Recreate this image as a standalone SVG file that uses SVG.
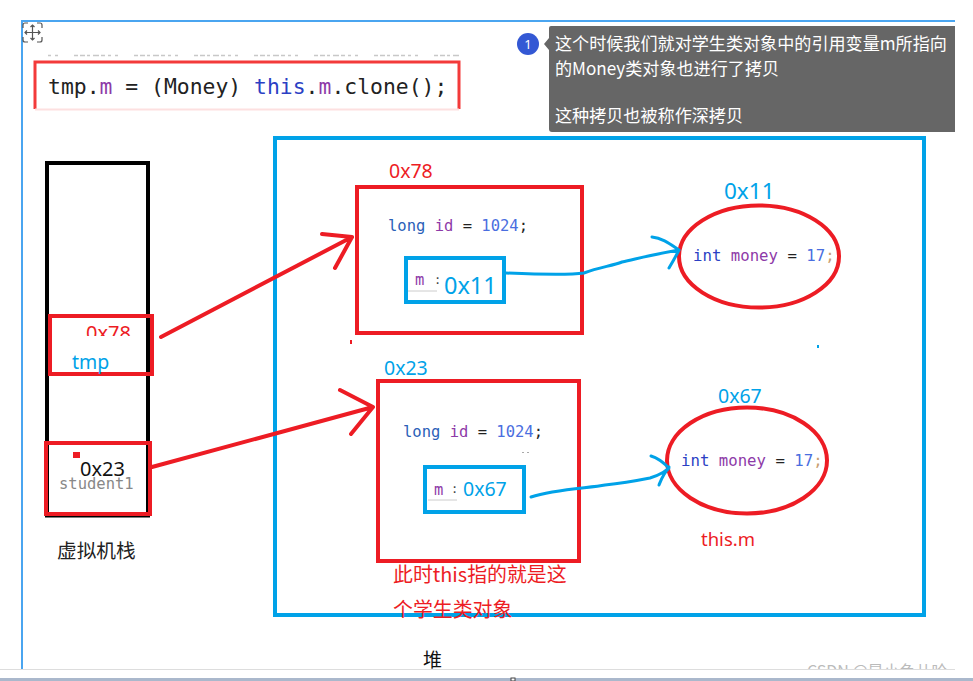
<svg xmlns="http://www.w3.org/2000/svg" width="973" height="681" viewBox="0 0 973 681">
<defs><style>
.mono{font-family:"DejaVu Sans Mono","Liberation Mono",monospace}
.sans{font-family:"Noto Sans","Noto Sans CJK SC","Liberation Sans",sans-serif}
.cjk{font-family:"Noto Sans CJK SC","Noto Sans",sans-serif}
.red{fill:none;stroke:#ed1c24}
.blue{fill:none;stroke:#00a2e8}
.kw{fill:#2b3fc4}.pu{fill:#8e3aa8}.nm{fill:#4a6ee0}.dk{fill:#222}
</style>
<clipPath id="wm"><rect x="800" y="660" width="160" height="9"/></clipPath>
<clipPath id="c78"><rect x="60" y="316" width="80" height="20"/></clipPath>
</defs>
<rect width="973" height="681" fill="#fff"/>
<g id="frame">
<path d="M22 670V21H955" fill="none" stroke="#4aa5f0" stroke-width="2"/>
<rect x="0" y="669" width="955" height="1" fill="#ddd"/>
<rect x="0" y="678" width="973" height="3" fill="#aab8cc"/>
<rect x="511" y="678" width="4" height="3" fill="#fff" stroke="#444" stroke-width="1"/>
<text x="807" y="677" class="cjk" font-size="16" fill="#bbb" clip-path="url(#wm)">CSDN @是小鱼儿哈</text>
<g fill="none" stroke="#555" stroke-width="1.200"><path d="M23 28V25Q23 23 25 23H28M37 23H40Q42 23 42 25V28M42 37V40Q42 42 40 42H37M28 42H25Q23 42 23 40V37"/><path d="M32.500 25V40M25 32.500H40M30.500 27L32.500 25L34.500 27M30.500 38L32.500 40L34.500 38M27 30.500L25 32.500L27 34.500M38 30.500L40 32.500L38 34.500"/></g>
<path d="M48 55.500H459" stroke="#c8c8c8" stroke-width="1.500" stroke-dasharray="3 4 3 16 4 2 5 2 3 3 6 2 4 3" fill="none"/>
</g>
<g id="code-box">
<path d="M35 109V62H459V109" fill="none" stroke="#f33a3a" stroke-width="3"/>
<path d="M35 109.500H459" fill="none" stroke="#fde0e0" stroke-width="2"/>
<text x="48" y="94" class="mono" font-size="21.400"><tspan class="dk">tmp.</tspan><tspan class="pu">m</tspan><tspan class="dk"> = (Money) </tspan><tspan class="kw">this</tspan><tspan class="dk">.</tspan><tspan class="pu">m</tspan><tspan class="dk">.clone();</tspan></text>
</g>
<g id="comment">
<circle cx="528" cy="44" r="11" fill="#3358d4"/>
<text x="528" y="49" text-anchor="middle" class="sans" font-size="13" fill="#fff">1</text>
<path d="M551 26H955V132H552Q549 132 549 129V50L544 44L549 38V28Q549 26 551 26Z" fill="#666"/>
<g class="cjk" font-size="17.100" fill="#fff"><text x="555" y="50">这个时候我们就对学生类对象中的引用变量m所指向</text><text x="555" y="75">的Money类对象也进行了拷贝</text><text x="555" y="122">这种拷贝也被称作深拷贝</text></g>
</g>
<g id="heap">
<rect x="275" y="138" width="649" height="477" class="blue" stroke-width="4"/>
<text x="423" y="667" class="cjk" font-size="19" fill="#111">堆</text>
</g>
<g id="stack">
<rect x="47" y="163" width="101" height="352" fill="none" stroke="#000" stroke-width="4"/>
<path d="M45 516H150" stroke="#000" stroke-width="3" fill="none"/>
<text x="57" y="558" class="cjk" font-size="19.700" fill="#222">虚拟机栈</text>
</g>
<g id="stack-tmp">
<text x="86" y="340" class="sans" font-size="20" fill="#ed1c24" clip-path="url(#c78)">0x78</text>
<rect x="50" y="316" width="102" height="58" fill="none" stroke="#ed1c24" stroke-width="4"/>
<text x="72" y="369" class="sans" font-size="19.500" fill="#00a2e8">tmp</text>
</g>
<g id="stack-student1">
<rect x="46" y="443" width="104" height="71" class="red" stroke-width="4"/>
<rect x="73" y="452" width="7" height="6" fill="#ed1c24"/>
<text x="80" y="476" class="sans" font-size="20" fill="#111">0x23</text>
<text x="59" y="489" class="mono" font-size="15.500" fill="#888">student1</text>
</g>
<g id="obj-78">
<text x="389" y="178" class="sans" font-size="19.500" fill="#ed1c24">0x78</text>
<rect x="357" y="187" width="225" height="146" class="red" stroke-width="4"/>
<text x="388" y="231" class="mono" font-size="15.500"><tspan fill="#2b5fb8">long</tspan><tspan fill="#8e3aa8"> id</tspan><tspan class="dk"> = </tspan><tspan class="nm">1024</tspan><tspan class="dk">;</tspan></text>
<rect x="406" y="258" width="98" height="44" class="blue" stroke-width="4"/>
<text x="415" y="285" class="mono" font-size="15.500" fill="#8e3aa8">m</text>
<text x="434" y="284" class="mono" font-size="12" fill="#444">:</text>
<path d="M408 291H437" stroke="#ccc" fill="none"/>
<text x="444" y="294" class="sans" font-size="23.500" fill="#00a2e8">0x11</text>
</g>
<g id="money-11">
<text x="724" y="199" class="sans" font-size="22.500" fill="#00a2e8">0x11</text>
<ellipse cx="759" cy="256.500" rx="80" ry="51" class="red" stroke-width="4"/>
<text x="693" y="261" class="mono" font-size="15.700"><tspan fill="#2b3fc4">int</tspan><tspan fill="#8e3aa8"> money</tspan><tspan class="dk"> = </tspan><tspan class="nm">17</tspan><tspan fill="#c9a070">;</tspan></text>
</g>
<g id="obj-23">
<text x="384" y="375" class="sans" font-size="19.500" fill="#00a2e8">0x23</text>
<rect x="378" y="381" width="201" height="180" class="red" stroke-width="4"/>
<text x="403" y="437" class="mono" font-size="15.500"><tspan fill="#2b5fb8">long</tspan><tspan fill="#8e3aa8"> id</tspan><tspan class="dk"> = </tspan><tspan class="nm">1024</tspan><tspan class="dk">;</tspan></text>
<rect x="425" y="467" width="99" height="45" class="blue" stroke-width="4"/>
<text x="434" y="495" class="mono" font-size="15.500" fill="#8e3aa8">m</text>
<text x="451" y="493" class="mono" font-size="12" fill="#444">:</text>
<path d="M428 500H457" stroke="#ccc" fill="none"/>
<text x="463" y="496" class="sans" font-size="19.500" fill="#00a2e8">0x67</text>
<text x="393" y="582" class="cjk" font-size="19.900" fill="#ed1c24">此时this指的就是这</text>
<text x="393" y="617" class="cjk" font-size="19.900" fill="#ed1c24">个学生类对象</text>
</g>
<g id="money-67">
<text x="718" y="403" class="sans" font-size="19.500" fill="#00a2e8">0x67</text>
<ellipse cx="747" cy="460.500" rx="80" ry="53" class="red" stroke-width="4"/>
<text x="681" y="466" class="mono" font-size="15.700"><tspan fill="#2b3fc4">int</tspan><tspan fill="#8e3aa8"> money</tspan><tspan class="dk"> = </tspan><tspan class="nm">17</tspan><tspan fill="#c9a070">;</tspan></text>
<text x="701" y="546" class="sans" font-size="18.500" fill="#ed1c24">this.m</text>
</g>
<g id="specks">
<rect x="350" y="340" width="2" height="4" fill="#ed1c24"/>
<rect x="817" y="345" width="2" height="3" fill="#00a2e8"/>
<path d="M522 452.500H529" stroke="#aaa" stroke-dasharray="2 3" fill="none"/>
</g>
<g id="connectors" stroke-linecap="round" stroke-linejoin="round">
<path d="M161 337L352 237M322 234L352 237L335 268" class="red" stroke-width="4"/>
<path d="M152 467L373 407M340 390L373 407L351 434" class="red" stroke-width="4"/>
<path d="M506 273C530 274 570 275 584 273C600 267 612 266 622 262C640 258 655 254 679 250M652 237C662 238 670 244 679 250C676 256 672 263 669 268" class="blue" stroke-width="3"/>
<path d="M531 497C555 489 590 488 605 485C625 483 640 480 650 478C660 475 668 470 669 467M651 456C658 458 664 463 669 468C663 474 661 480 659 485" class="blue" stroke-width="3"/>
</g>
</svg>
